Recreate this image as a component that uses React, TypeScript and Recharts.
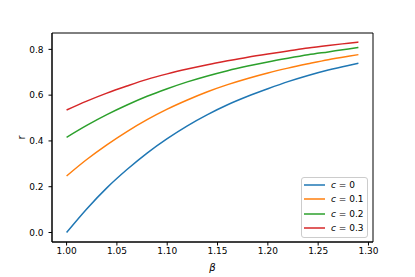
import React from "react";
import { LineChart, Line, XAxis, YAxis, Legend, ReferenceArea } from "recharts";

// values
const beta = [1.0, 1.02, 1.04, 1.06, 1.08, 1.1, 1.12, 1.14, 1.16, 1.18, 1.2, 1.22, 1.24, 1.26, 1.28, 1.29];
const rC0 = [0.0, 0.103, 0.195, 0.275, 0.347, 0.41, 0.466, 0.515, 0.558, 0.595, 0.628, 0.659, 0.686, 0.71, 0.73, 0.739];
const rC01 = [0.247, 0.319, 0.383, 0.441, 0.493, 0.539, 0.579, 0.615, 0.646, 0.673, 0.697, 0.718, 0.737, 0.755, 0.77, 0.777];
const rC02 = [0.416, 0.468, 0.515, 0.557, 0.595, 0.628, 0.658, 0.684, 0.707, 0.727, 0.745, 0.761, 0.776, 0.789, 0.802, 0.808];
const rC03 = [0.535, 0.574, 0.609, 0.64, 0.669, 0.693, 0.714, 0.733, 0.75, 0.766, 0.78, 0.793, 0.806, 0.817, 0.827, 0.832];

const xTicks = [1.0, 1.05, 1.1, 1.15, 1.2, 1.25, 1.3];
const yTicks = [0, 0.2, 0.4, 0.6, 0.8];
const xDomain = [0.9855, 1.3045];
const yDomain = [-0.0415, 0.8715];

const series = [
  { key: "c0", label: "0", color: "#1f77b4", values: rC0 },
  { key: "c01", label: "0.1", color: "#ff7f0e", values: rC01 },
  { key: "c02", label: "0.2", color: "#2ca02c", values: rC02 },
  { key: "c03", label: "0.3", color: "#d62728", values: rC03 },
];

const data = beta.map((b, i) => {
  const row: Record<string, number> = { beta: b };
  series.forEach((s) => (row[s.key] = s.values[i]));
  return row;
});

const FONT = "'DejaVu Sans', sans-serif";
const tickStyle = { fontSize: 9, fill: "#000", fontFamily: FONT };

function YTitle(props: any) {
  const vb = props.viewBox || {};
  const x = vb.x + 21;
  const y = vb.y + vb.height / 2;
  return (
    <text x={x} y={y} transform={`rotate(-90 ${x} ${y})`} textAnchor="middle" dominantBaseline="central"
      fontSize={10} fontFamily={FONT} fill="#000">
      r
    </text>
  );
}

function XTitle(props: any) {
  const vb = props.viewBox || {};
  return (
    <text x={vb.x + vb.width / 2} y={vb.y + 25} textAnchor="middle" dominantBaseline="central"
      fontSize={10} fontFamily={FONT} fontStyle="italic" fill="#000">
      β
    </text>
  );
}

function LegendBox() {
  return (
    <div
      style={{
        width: 67,
        boxSizing: "border-box",
        border: "1px solid #cccccc",
        borderRadius: 3,
        background: "rgba(255,255,255,0.8)",
        padding: "0px 2px 2px 2px",
        fontFamily: FONT,
        fontSize: 9,
        color: "#000",
      }}
    >
      {series.map((s) => (
        <div key={s.key} style={{ display: "flex", alignItems: "center", height: 14.3 }}>
          <svg width={21} height={4} style={{ marginRight: 6, display: "block" }}>
            <line x1={0} y1={2} x2={21} y2={2} stroke={s.color} strokeWidth={1.5} />
          </svg>
          <span style={{ whiteSpace: "nowrap" }}>
            <i>c</i> = {s.label}
          </span>
        </div>
      ))}
    </div>
  );
}

export default function App() {
  return (
    <div style={{ position: "absolute", left: 0, top: 0, width: 415, height: 277, background: "#fff" }}>
      <LineChart width={415} height={277} data={data} margin={{ top: 33, right: 42, left: 0, bottom: 0 }}>
        <XAxis
          dataKey="beta"
          type="number"
          domain={xDomain}
          ticks={xTicks}
          allowDataOverflow
          tickFormatter={(v: number) => v.toFixed(2)}
          tick={tickStyle}
          tickSize={3.5}
          tickMargin={2.5}
          height={35}
          stroke="#000"
          label={<XTitle />}
        />
        <YAxis
          type="number"
          domain={yDomain}
          ticks={yTicks}
          allowDataOverflow
          tickFormatter={(v: number) => v.toFixed(1)}
          tick={tickStyle}
          tickSize={3.5}
          tickMargin={5}
          width={52}
          stroke="#000"
          label={<YTitle />}
        />
        <ReferenceArea
          x1={xDomain[0]}
          x2={xDomain[1]}
          y1={yDomain[0]}
          y2={yDomain[1]}
          fill="none"
          fillOpacity={0}
          stroke="#000"
          strokeWidth={1}
          ifOverflow="visible"
        />
        {series.map((s) => (
          <Line
            key={s.key}
            dataKey={s.key}
            type="monotone"
            stroke={s.color}
            strokeWidth={1.5}
            dot={false}
            isAnimationActive={false}
          />
        ))}
        <Legend
          layout="vertical"
          align="center"
          verticalAlign="middle"
          content={<LegendBox />}
          wrapperStyle={{ left: 301, top: 177, width: 67, height: 60 }}
        />
      </LineChart>
    </div>
  );
}
